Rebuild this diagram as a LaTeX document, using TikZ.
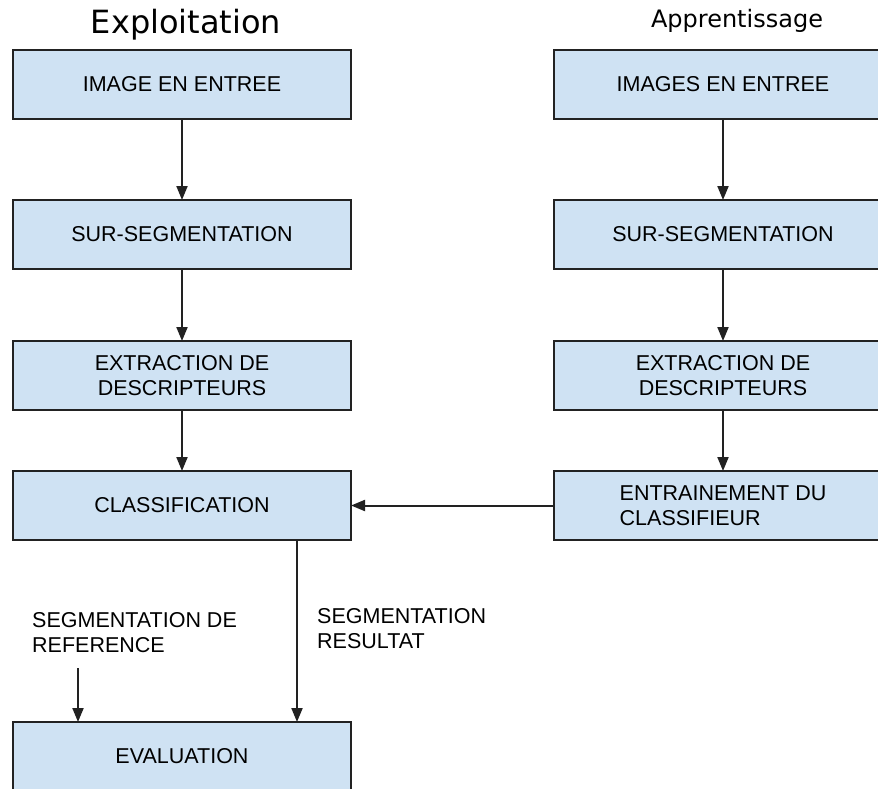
\documentclass[tikz,border=0pt]{standalone}
\usepackage{fontspec}
\setmainfont{Liberation Sans}
\newfontfamily\headfont{DejaVu Sans}
\usetikzlibrary{arrows.meta,positioning}
\definecolor{boxblue}{HTML}{CFE2F3}
\definecolor{edgegray}{HTML}{222222}

\begin{document}
\begin{tikzpicture}[x=1pt, y=-1pt,
    font=\fontsize{21.5}{25}\selectfont,
    stage/.style={draw=edgegray, fill=boxblue, line width=2pt, minimum width=338pt, minimum height=69pt, inner sep=0pt, outer sep=0pt, align=center},
    arrow/.style={-{Triangle[length=14pt, width=11pt]}, line width=2pt, draw=edgegray},
    caption/.style={anchor=north west, inner sep=0pt, align=left}
]
\clip (0,0) rectangle (878,788);

% Exploitation column
\node[stage] (e1) at (182,84.5) {IMAGE EN ENTREE};
\node[stage, below=81pt of e1] (e2) {SUR-SEGMENTATION};
\node[stage, below=72pt of e2] (e3) {EXTRACTION DE\\DESCRIPTEURS};
\node[stage, below=61pt of e3] (e4) {CLASSIFICATION};
\node[stage, below=182pt of e4] (e5) {EVALUATION};

\draw[arrow] (e1.south) -- (e2.north);
\draw[arrow] (e2.south) -- (e3.north);
\draw[arrow] (e3.south) -- (e4.north);

\node[anchor=base, font=\headfont\fontsize{32}{38}\selectfont] (tExp) at (186,33) {Exploitation};

% Apprentissage column
\node[stage] (a1) at (723,84.5) {IMAGES EN ENTREE};
\node[stage, below=81pt of a1] (a2) {SUR-SEGMENTATION};
\node[stage, below=72pt of a2] (a3) {EXTRACTION DE\\DESCRIPTEURS};
\node[stage, below=61pt of a3, align=left] (a4) {ENTRAINEMENT DU\\CLASSIFIEUR};

\draw[arrow] (a1.south) -- (a2.north);
\draw[arrow] (a2.south) -- (a3.north);
\draw[arrow] (a3.south) -- (a4.north);
\draw[arrow] (a4.west) -- (e4.east);

\node[anchor=base, font=\headfont\fontsize{24}{29}\selectfont] (tApp) at (737,27) {Apprentissage};

% evaluation inputs
\node[caption] (segRef) at (32,612) {SEGMENTATION DE\\REFERENCE};
\node[caption] (segRes) at (317,608) {SEGMENTATION\\RESULTAT};
\coordinate (refIn) at (78,668);

\draw[arrow] (refIn) -- (refIn |- e5.north);
\draw[arrow] ([xshift=115pt]e4.south) -- ([xshift=115pt]e5.north);

\end{tikzpicture}
\end{document}
